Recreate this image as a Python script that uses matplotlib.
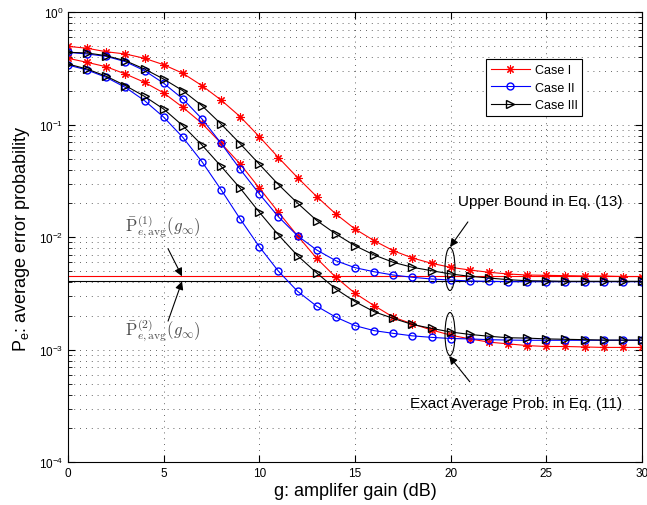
import matplotlib
matplotlib.use("Agg")
import matplotlib.pyplot as plt
from matplotlib.patches import Ellipse

plt.rcParams['font.family'] = ['Liberation Sans', 'DejaVu Sans']

# amplifier gain in dB, one point per dB
gain_db = list(range(31))

# Case I (red): upper bound Eq. (13) and exact average Eq. (11)
case1_bound = [0.498, 0.479, 0.446, 0.426, 0.390, 0.342, 0.287, 0.223, 0.166, 0.118,
               0.0784, 0.0511, 0.0339, 0.0230, 0.0161, 0.01185, 0.00933, 0.0076, 0.00655,
               0.00587, 0.00541, 0.00512, 0.00489, 0.00472, 0.00462, 0.00459, 0.00456,
               0.00453, 0.00453, 0.00448, 0.00448]
case1_exact = [0.390, 0.359, 0.328, 0.283, 0.2385, 0.192, 0.143, 0.103, 0.0685, 0.0448,
               0.0274, 0.0167, 0.0103, 0.0065, 0.00441, 0.00318, 0.00247, 0.00195, 0.0017,
               0.0015, 0.00135, 0.00125, 0.00117, 0.00113, 0.00109, 0.00107, 0.00107,
               0.00106, 0.00105, 0.00105, 0.00105]
# Case II (blue)
case2_bound = [0.441, 0.426, 0.406, 0.364, 0.303, 0.234, 0.170, 0.113, 0.0685, 0.0402,
               0.0243, 0.0152, 0.0103, 0.00771, 0.00619, 0.00537, 0.00494, 0.00462, 0.00441,
               0.00426, 0.00417, 0.00409, 0.00406, 0.00403, 0.00403, 0.00403, 0.00403,
               0.00403, 0.00403, 0.00403, 0.00403]
case2_exact = [0.340, 0.307, 0.264, 0.215, 0.164, 0.117, 0.0774, 0.047, 0.0265, 0.01454,
               0.00825, 0.00499, 0.00331, 0.00244, 0.00195, 0.00164, 0.00148, 0.0014,
               0.00133, 0.00129, 0.00126, 0.00125, 0.00123, 0.00122, 0.001215, 0.001215,
               0.001215, 0.001215, 0.001215, 0.001215, 0.001215]
# Case III (black)
case3_bound = [0.441, 0.435, 0.411, 0.371, 0.313, 0.255, 0.201, 0.148, 0.1016, 0.0679,
               0.0446, 0.0294, 0.0201, 0.0141, 0.0107, 0.00842, 0.00696, 0.00599, 0.00541,
               0.00505, 0.00472, 0.0045, 0.00435, 0.0042, 0.00411, 0.00409, 0.00406,
               0.00406, 0.00406, 0.00406, 0.00406]
case3_exact = [0.347, 0.313, 0.270, 0.223, 0.179, 0.138, 0.0982, 0.0661, 0.0428, 0.0273,
               0.0167, 0.0105, 0.00686, 0.00482, 0.00347, 0.00268, 0.00218, 0.0019, 0.00168,
               0.00155, 0.00144, 0.00137, 0.00132, 0.00128, 0.00127, 0.00125, 0.00124,
               0.00123, 0.00122, 0.00122, 0.00122]

# asymptotic error probabilities for g -> infinity
limit_1 = 4.5e-3
limit_2 = 4.06e-3

fig = plt.figure(figsize=(6.47, 5.06), dpi=100)
ax = fig.add_axes([68 / 647, 1 - 463.3 / 506, 574 / 647, 450 / 506])

lw = 0.8
star = (8, 2, 0)  # matlab style asterisk
ax.axhline(limit_1, color='red', lw=lw)
ax.axhline(limit_2, color='black', lw=lw)

ax.plot(gain_db, case1_bound, color='red', marker=star, ms=6, mew=0.8, lw=lw, label='Case I')
ax.plot(gain_db, case1_exact, color='red', marker=star, ms=6, mew=0.8, lw=lw)
ax.plot(gain_db, case2_bound, color='blue', marker='o', ms=5, mfc='none', lw=lw, label='Case II')
ax.plot(gain_db, case2_exact, color='blue', marker='o', ms=5, mfc='none', lw=lw)
ax.plot(gain_db, case3_bound, color='black', marker='>', ms=6, mfc='none', lw=lw, label='Case III')
ax.plot(gain_db, case3_exact, color='black', marker='>', ms=6, mfc='none', lw=lw)

ax.set_yscale('log')
ax.set_xlim(0, 30)
ax.set_ylim(1e-4, 1)
ax.set_xticks(range(0, 31, 5))

dots = (0, (1, 6))
ax.grid(True, which='major', linestyle=dots, color='0.2', lw=0.6)
ax.grid(True, which='minor', axis='y', linestyle=dots, color='0.2', lw=0.6)
ax.tick_params(which='both', direction='in', top=True, right=True, labelsize=8.5)
ax.tick_params(which='major', length=5)
ax.tick_params(which='minor', length=3)
for s in ax.spines.values():
    s.set_linewidth(0.8)

ax.set_xlabel('g: amplifer gain (dB)', fontsize=13, labelpad=2)
ax.set_ylabel(r'P$_\mathregular{e}$: average error probability', fontsize=13, labelpad=5)

leg = ax.legend(loc='upper left', bbox_to_anchor=(0.728, 0.896), fontsize=9,
                fancybox=False, edgecolor='black', framealpha=1, borderaxespad=0,
                handlelength=3.1, handletextpad=0.4, labelspacing=0.45)
leg.get_frame().set_linewidth(0.8)

# annotations
arrow = dict(arrowstyle='-|>', color='k', lw=0.8, mutation_scale=12, shrinkA=0, shrinkB=0)
ax.text(24.67, 0.021, 'Upper Bound in Eq. (13)', ha='center', va='center', fontsize=11)
ax.text(23.42, 3.37e-4, 'Exact Average Prob. in Eq. (11)', ha='center', va='center', fontsize=11)
ax.annotate('', xy=(19.97, 8.2e-3), xytext=(20.9, 0.0137), arrowprops=arrow)
ax.annotate('', xy=(19.92, 8.8e-4), xytext=(21.0, 5.2e-4), arrowprops=arrow)

ax.text(4.97, 0.0128, r'$\bar{\mathrm{P}}^{(1)}_{e,\mathrm{avg}}(g_\infty)$', ha='center',
        va='center', fontsize=12, color='0.3', math_fontfamily='cm')
ax.text(4.97, 1.5e-3, r'$\bar{\mathrm{P}}^{(2)}_{e,\mathrm{avg}}(g_\infty)$', ha='center',
        va='center', fontsize=12, color='0.3', math_fontfamily='cm')
ax.annotate('', xy=(5.96, limit_1), xytext=(5.23, 7.9e-3), arrowprops=arrow)
ax.annotate('', xy=(5.96, limit_2), xytext=(5.23, 1.8e-3), arrowprops=arrow)

# ellipses around the curves at 20 dB, drawn in axes fraction
for cy in (270, 335):
    cx_ax = (450 - 68) / 574
    cy_ax = (463.3 - cy) / 450
    ax.add_patch(Ellipse((cx_ax, cy_ax), 10 / 574, 43 / 450, transform=ax.transAxes,
                         fill=False, ec='k', lw=0.8, zorder=5))

fig.savefig('out.png', dpi=100)
